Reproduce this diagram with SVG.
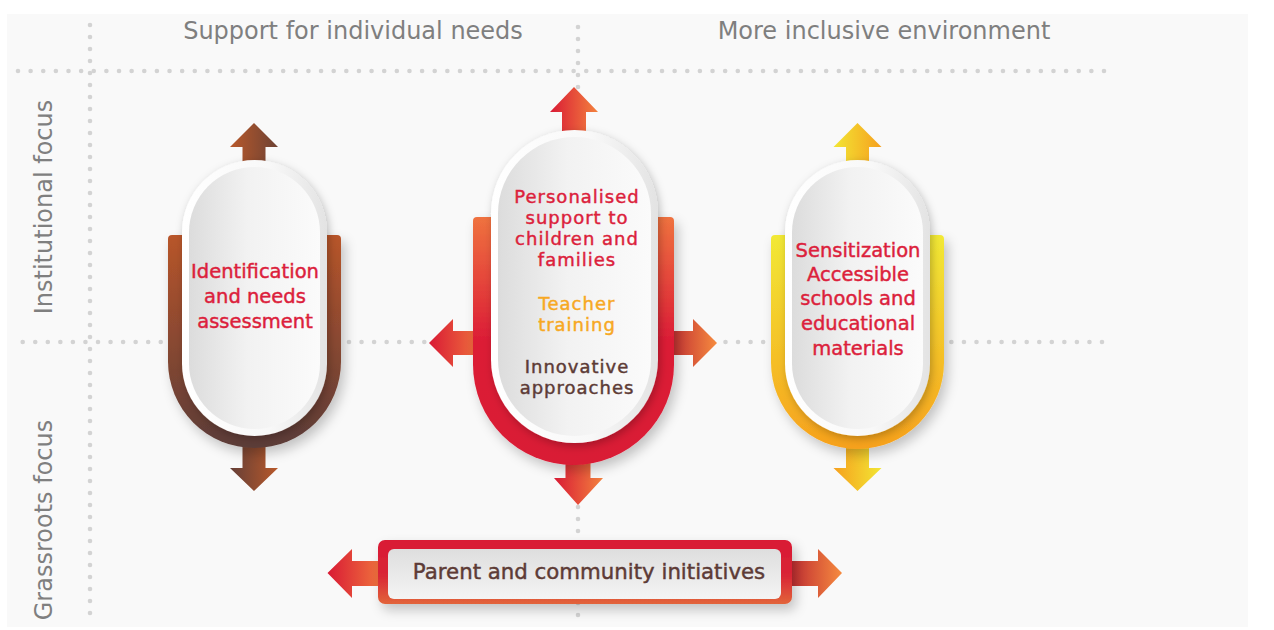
<svg xmlns="http://www.w3.org/2000/svg" width="1274" height="630" viewBox="0 0 1274 630">
  <defs>
    <style>
      .hdr { font-family: "DejaVu Sans", "Liberation Sans", sans-serif; font-size: 24px; fill: #7f7f7f; text-anchor: middle; }
      .lbl { font-family: "DejaVu Sans", "Liberation Sans", sans-serif; font-size: 19.5px; text-anchor: middle; stroke-width: 0.45px; }
      .tight { font-size: 18px; letter-spacing: 1px; }
      .red { fill: #dc1f3c; stroke: #dc1f3c; }
      .org { fill: #f7a823; stroke: #f7a823; }
      .brn { fill: #5d3b36; stroke: #5d3b36; }
      .dots { fill: none; stroke: #d3d3d3; stroke-width: 4.6; stroke-linecap: round; }
    </style>
    <!-- capsule shading -->
    <linearGradient id="ring" x1="0" y1="0" x2="1" y2="0">
      <stop offset="0" stop-color="#ffffff"/>
      <stop offset="0.6" stop-color="#f8f8f8"/>
      <stop offset="1" stop-color="#e3e3e3"/>
    </linearGradient>
    <linearGradient id="core" x1="0" y1="0" x2="1" y2="0">
      <stop offset="0" stop-color="#dcdcdc"/>
      <stop offset="0.45" stop-color="#f2f2f2"/>
      <stop offset="1" stop-color="#fbfbfb"/>
    </linearGradient>
    <!-- U bands -->
    <linearGradient id="uBrown" x1="0" y1="0" x2="0" y2="1">
      <stop offset="0" stop-color="#b8552a"/>
      <stop offset="1" stop-color="#5b3c38"/>
    </linearGradient>
    <linearGradient id="uRed" x1="0" y1="0" x2="0" y2="1">
      <stop offset="0" stop-color="#ef723f"/>
      <stop offset="0.5" stop-color="#dc1c36"/>
      <stop offset="1" stop-color="#d91a35"/>
    </linearGradient>
    <linearGradient id="uYellow" x1="0" y1="0" x2="0" y2="1">
      <stop offset="0" stop-color="#f2e935"/>
      <stop offset="1" stop-color="#f7a11d"/>
    </linearGradient>
    <!-- arrow fills -->
    <linearGradient id="aBrownA" x1="0" y1="0" x2="1" y2="0">
      <stop offset="0" stop-color="#b8592b"/>
      <stop offset="1" stop-color="#6e4234"/>
    </linearGradient>
    <linearGradient id="aBrownB" x1="0" y1="0" x2="1" y2="0">
      <stop offset="0" stop-color="#653f37"/>
      <stop offset="1" stop-color="#b8592b"/>
    </linearGradient>
    <linearGradient id="aRed" x1="0" y1="0" x2="1" y2="0">
      <stop offset="0" stop-color="#d91a35"/>
      <stop offset="1" stop-color="#f3823e"/>
    </linearGradient>
    <linearGradient id="aRedDark" x1="0" y1="0" x2="1" y2="0">
      <stop offset="0" stop-color="#b4182f"/>
      <stop offset="1" stop-color="#f68b3f"/>
    </linearGradient>
    <linearGradient id="aYellowA" x1="0" y1="0" x2="1" y2="0">
      <stop offset="0" stop-color="#f2e634"/>
      <stop offset="1" stop-color="#f6a01e"/>
    </linearGradient>
    <linearGradient id="aYellowB" x1="0" y1="0" x2="1" y2="0">
      <stop offset="0" stop-color="#f6a01e"/>
      <stop offset="1" stop-color="#f2e634"/>
    </linearGradient>
    <linearGradient id="barEdge" x1="0" y1="0" x2="0" y2="1">
      <stop offset="0" stop-color="#d91a35"/>
      <stop offset="0.55" stop-color="#d92535"/>
      <stop offset="1" stop-color="#e2643a"/>
    </linearGradient>
    <linearGradient id="barCore" x1="0" y1="0" x2="0" y2="1">
      <stop offset="0" stop-color="#dedede"/>
      <stop offset="1" stop-color="#f4f4f4"/>
    </linearGradient>
    <filter id="shadowBig" x="-30%" y="-20%" width="160%" height="150%">
      <feDropShadow dx="4" dy="6" stdDeviation="6" flood-color="#000" flood-opacity="0.22"/>
    </filter>
    <filter id="shadowSmall" x="-20%" y="-20%" width="140%" height="140%">
      <feDropShadow dx="2" dy="3" stdDeviation="4" flood-color="#000" flood-opacity="0.25"/>
    </filter>
  </defs>

  <!-- backdrop panel -->
  <rect x="0" y="0" width="1274" height="630" fill="#ffffff"/>
  <rect x="7" y="14" width="1241" height="613" fill="#f9f9f9"/>

  <!-- grid of dotted guides -->
  <g id="grid">
    <line class="dots" x1="1104" y1="71" x2="17" y2="71" stroke-dasharray="0 12.628"/>
    <line class="dots" x1="1102" y1="342" x2="16" y2="342" stroke-dasharray="0 12.55"/>
    <line class="dots" x1="90" y1="25" x2="90" y2="623" stroke-dasharray="0 12"/>
    <line class="dots" x1="578" y1="27" x2="578" y2="627" stroke-dasharray="0 12"/>
  </g>

  <!-- axis headings -->
  <g id="headings">
    <text class="hdr" x="353" y="39">Support for individual needs</text>
    <text class="hdr" x="884" y="39">More inclusive environment</text>
    <text class="hdr" transform="translate(52,207) rotate(-90)">Institutional focus</text>
    <text class="hdr" transform="translate(52,520) rotate(-90)">Grassroots focus</text>
  </g>

  <!-- directional arrows -->
  <g id="connectors">
    <!-- brown node -->
    <polygon fill="url(#aBrownA)" points="254,123 278,147 265.5,147 265.5,175 242.5,175 242.5,147 230,147"/>
    <polygon fill="url(#aBrownB)" points="242.5,430 265.5,430 265.5,468 278,468 254,491 230,468 242.5,468"/>
    <!-- red node -->
    <polygon fill="url(#aRed)" points="574,87 598,112 586,112 586,150 562,150 562,112 550,112"/>
    <polygon fill="url(#aRed)" points="565.5,440 590.5,440 590.5,478 603,478 578,505 554,478 565.5,478"/>
    <polygon fill="url(#aRed)" points="429,343 453,319 453,331 490,331 490,355 453,355 453,367"/>
    <polygon fill="url(#aRedDark)" points="660,331 693,331 693,319 717,343 693,367 693,355 660,355"/>
    <!-- yellow node -->
    <polygon fill="url(#aYellowA)" points="857.5,123 881.5,147 869,147 869,175 846,175 846,147 833.5,147"/>
    <polygon fill="url(#aYellowB)" points="846,430 869,430 869,468 881.5,468 857.5,491 833.5,468 846,468"/>
    <!-- community bar -->
    <polygon fill="url(#aRed)" points="327.5,573 352,549 352,561 390,561 390,586 352,586 352,598"/>
    <polygon fill="url(#aRedDark)" points="780,561 818,561 818,549 842,573 818,598 818,586 780,586"/>
  </g>

  <!-- node: identification -->
  <g id="node-identification">
    <path fill="url(#uBrown)" filter="url(#shadowBig)" d="M168,239 a4,4 0 0 1 4,-4 H337 a4,4 0 0 1 4,4 V361.5 A86.5,86.5 0 0 1 168,361.5 Z"/>
    <g filter="url(#shadowSmall)">
      <rect x="182" y="160" width="145" height="276" rx="72.5" fill="url(#ring)"/>
      <rect x="189" y="167" width="131" height="262" rx="65.5" fill="url(#core)"/>
    </g>
    <text class="lbl red" x="255" y="278">Identification</text>
    <text class="lbl red" x="255" y="303">and needs</text>
    <text class="lbl red" x="255" y="328">assessment</text>
  </g>

  <!-- node: personalised support -->
  <g id="node-personalised">
    <path fill="url(#uRed)" filter="url(#shadowBig)" d="M473,221 a4,4 0 0 1 4,-4 H670 a4,4 0 0 1 4,4 V364.5 A100.5,100.5 0 0 1 473,364.5 Z"/>
    <g filter="url(#shadowSmall)">
      <rect x="491" y="130" width="167" height="313" rx="83.5" fill="url(#ring)"/>
      <rect x="498" y="137" width="153" height="299" rx="76.5" fill="url(#core)"/>
    </g>
    <text class="lbl tight red" x="577" y="203">Personalised</text>
    <text class="lbl tight red" x="577" y="224">support to</text>
    <text class="lbl tight red" x="577" y="245">children and</text>
    <text class="lbl tight red" x="577" y="266">families</text>
    <text class="lbl tight org" x="577" y="310">Teacher</text>
    <text class="lbl tight org" x="577" y="331">training</text>
    <text class="lbl tight brn" x="577" y="373">Innovative</text>
    <text class="lbl tight brn" x="577" y="394">approaches</text>
  </g>

  <!-- node: sensitization -->
  <g id="node-sensitization">
    <path fill="url(#uYellow)" filter="url(#shadowBig)" d="M771,239 a4,4 0 0 1 4,-4 H940 a4,4 0 0 1 4,4 V362.5 A86.5,86.5 0 0 1 771,362.5 Z"/>
    <g filter="url(#shadowSmall)">
      <rect x="785" y="160" width="145" height="276" rx="72.5" fill="url(#ring)"/>
      <rect x="792" y="167" width="131" height="262" rx="65.5" fill="url(#core)"/>
    </g>
    <text class="lbl red" x="858" y="257">Sensitization</text>
    <text class="lbl red" x="858" y="281">Accessible</text>
    <text class="lbl red" x="858" y="305">schools and</text>
    <text class="lbl red" x="858" y="330">educational</text>
    <text class="lbl red" x="858" y="355">materials</text>
  </g>

  <!-- node: community initiatives -->
  <g id="node-community">
    <rect x="378" y="540" width="414" height="64" rx="7" fill="url(#barEdge)" filter="url(#shadowBig)"/>
    <rect x="388" y="549" width="393" height="50" rx="6" fill="url(#barCore)"/>
    <text class="lbl brn" x="589" y="579" style="font-size:21.3px">Parent and community initiatives</text>
  </g>
</svg>
